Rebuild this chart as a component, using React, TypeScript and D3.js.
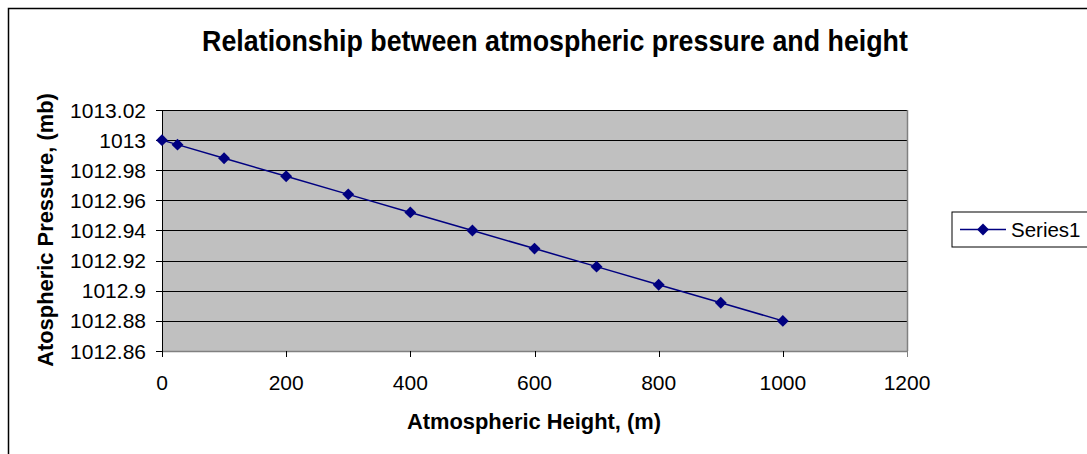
import React from "react";
import * as d3 from "d3";

const heights = [0, 25, 100, 200, 300, 400, 500, 600, 700, 800, 900, 1000];
const pressures = [1013, 1012.997, 1012.988, 1012.976, 1012.964, 1012.952, 1012.94, 1012.928, 1012.916, 1012.904, 1012.892, 1012.88];
const xTicks = [0, 200, 400, 600, 800, 1000, 1200];
const yTicks = [1012.86, 1012.88, 1012.9, 1012.92, 1012.94, 1012.96, 1012.98, 1013, 1013.02];
const seriesName = "Series1";

const W = 1087;
const H = 454;
const L = 162, R = 907, T = 110, B = 351;
const NAVY = "#000080";
const FONT = "Liberation Sans, Arial, sans-serif";

export default function App() {
  const x = d3.scaleLinear().domain([0, 1200]).range([L, R]);
  const y = d3.scaleLinear().domain([1012.86, 1013.02]).range([B, T]);
  const line = d3.line<number>().x((_, i) => x(heights[i])).y((d) => y(d));
  const diamond = d3.symbol().type(d3.symbolDiamond2).size(90)();
  const legY = 229.5;
  return (
    <svg width={W} height={H} style={{ position: "absolute", left: 0, top: 0 }} fontFamily={FONT}>
      <rect x={0} y={0} width={W} height={H} fill="#fff" />
      <rect x={8.5} y={8.5} width={W + 20} height={H + 20} fill="none" stroke="#000" strokeWidth={1.5} />
      <text transform="translate(555,51) scale(1,1.07)" textAnchor="middle" fontSize={26.8} fontWeight="bold">
        Relationship between atmospheric pressure and height
      </text>
      <rect x={L} y={T} width={R - L} height={B - T} fill="#c0c0c0" />
      {yTicks.map((t) => (
        <line key={"g" + t} x1={L} x2={R} y1={Math.round(y(t)) + 0.5} y2={Math.round(y(t)) + 0.5} stroke="#000" strokeWidth={1} />
      ))}
      <line x1={R + 0.5} x2={R + 0.5} y1={T} y2={B} stroke="#808080" strokeWidth={1.5} />
      <line x1={L} x2={R} y1={B + 0.5} y2={B + 0.5} stroke="#808080" strokeWidth={1.5} />
      <line x1={L + 0.5} x2={L + 0.5} y1={T} y2={B + 6} stroke="#000" strokeWidth={1} />
      {yTicks.map((t) => (
        <g key={"y" + t}>
          <line x1={L - 6} x2={L} y1={Math.round(y(t)) + 0.5} y2={Math.round(y(t)) + 0.5} stroke="#000" />
          <text x={146} y={y(t) + 7.5} textAnchor="end" fontSize={21}>{String(t)}</text>
        </g>
      ))}
      {xTicks.map((t) => (
        <g key={"x" + t}>
          <line x1={Math.round(x(t)) + 0.5} x2={Math.round(x(t)) + 0.5} y1={B} y2={B + 6} stroke={t === 1200 ? "#808080" : "#000"} />
          <text x={x(t)} y={390} textAnchor="middle" fontSize={21}>{String(t)}</text>
        </g>
      ))}
      <text x={534} y={429} textAnchor="middle" fontSize={21.9} fontWeight="bold">Atmospheric Height, (m)</text>
      <text transform={`translate(53,230) rotate(-90)`} textAnchor="middle" fontSize={21.9} fontWeight="bold">
        Atospheric Pressure, (mb)
      </text>
      <path d={line(pressures) || ""} fill="none" stroke={NAVY} strokeWidth={1.5} />
      {pressures.map((p, i) => (
        <path key={"m" + i} d={diamond || ""} transform={`translate(${x(heights[i])},${y(p)})`} fill={NAVY} />
      ))}
      <rect x={952} y={212} width={200} height={35} fill="#fff" stroke="#000" strokeWidth={1} />
      <line x1={960} x2={1006} y1={legY} y2={legY} stroke={NAVY} strokeWidth={1.5} />
      <path d={diamond || ""} transform={`translate(983,${legY})`} fill={NAVY} />
      <text x={1011} y={legY + 7} fontSize={20.5}>{seriesName}</text>
    </svg>
  );
}
